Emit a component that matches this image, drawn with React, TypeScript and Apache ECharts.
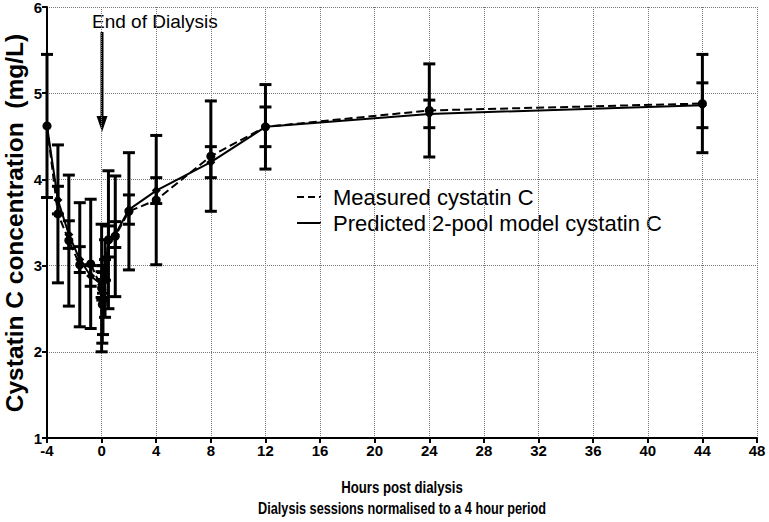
import React, { useEffect, useRef } from "react";
import * as echarts from "echarts";

// Hours post dialysis (sessions normalised to 4 h)
const xHours = [-4, -3.2, -2.4, -1.6, -0.8, 0, 0.05, 0.1, 0.25, 0.5, 1, 2, 4, 8, 12, 24, 44];
// Measured cystatin C (mg/L) and SD
const measuredMean = [4.62, 3.6, 3.29, 3.01, 3.02, 2.74, 2.55, 2.6, 2.85, 3.3, 3.34, 3.63, 3.76, 4.27, 4.61, 4.8, 4.88];
const measuredSD = [0.83, 0.8, 0.76, 0.72, 0.75, 0.74, 0.45, 0.4, 0.45, 0.8, 0.7, 0.68, 0.75, 0.64, 0.49, 0.54, 0.57];
// Predicted 2-pool model cystatin C (mg/L) and SD
const predictedMean = [4.62, 3.76, 3.36, 3.07, 2.88, 2.78, 2.72, 2.8, 2.95, 3.28, 3.36, 3.65, 3.87, 4.2, 4.61, 4.76, 4.86];
const predictedSD = [0, 0.16, 0.16, 0.15, 0.12, 0.15, 0.12, 0.12, 0.12, 0.18, 0.15, 0.17, 0.15, 0.18, 0.23, 0.16, 0.26];

const seriesNames = ["Measured cystatin C", "Predicted 2-pool model cystatin C"];
const annotationText = "End of Dialysis";
const xTitleLines = ["Hours post dialysis", "Dialysis sessions normalised to a 4 hour period"];
const yTitle = "Cystatin C concentration  (mg/L)";

const SANS = "'Liberation Sans', Arial, sans-serif";

function errorRender(capHalf: number, width: number) {
  return (params: any, api: any) => {
    const x = api.value(0);
    const loV = api.value(1);
    const hiV = api.value(2);
    if (hiV - loV < 1e-6) return null;
    const lo = api.coord([x, loV]);
    const hi = api.coord([x, hiV]);
    const st = { stroke: "#000", lineWidth: width };
    return {
      type: "group",
      children: [
        { type: "line", shape: { x1: lo[0], y1: lo[1], x2: hi[0], y2: hi[1] }, style: st },
        { type: "line", shape: { x1: lo[0] - capHalf, y1: lo[1], x2: lo[0] + capHalf, y2: lo[1] }, style: st },
        { type: "line", shape: { x1: hi[0] - capHalf, y1: hi[1], x2: hi[0] + capHalf, y2: hi[1] }, style: st },
      ],
    };
  };
}

export default function App() {
  const ref = useRef<HTMLDivElement>(null);
  useEffect(() => {
    if (!ref.current) return;
    const chart = echarts.init(ref.current, undefined, { renderer: "svg" });
    const measuredErr = xHours.map((x, i) => [x, measuredMean[i] - measuredSD[i], measuredMean[i] + measuredSD[i]]);
    const predictedErr = xHours.map((x, i) => [x, predictedMean[i] - predictedSD[i], predictedMean[i] + predictedSD[i]]);
    chart.setOption({
      animation: false,
      backgroundColor: "#fff",
      grid: { left: 47, right: 12, top: 7, bottom: 84, containLabel: false, outerBoundsMode: "none" },
      xAxis: {
        type: "value",
        min: -4,
        max: 48,
        interval: 4,
        axisLine: { show: true, onZero: false, lineStyle: { color: "#000", width: 2 } },
        axisTick: { show: true, length: 5, lineStyle: { color: "#000", width: 2 } },
        axisLabel: { color: "#000", fontFamily: SANS, fontWeight: "bold", fontSize: 15, margin: 5 },
        splitLine: { show: true, lineStyle: { type: "dotted", color: "#777", width: 1 } },
      },
      yAxis: {
        type: "value",
        min: 1,
        max: 6,
        interval: 1,
        axisLine: { show: true, onZero: false, lineStyle: { color: "#000", width: 2 } },
        axisTick: { show: true, length: 5, lineStyle: { color: "#000", width: 2 } },
        axisLabel: { color: "#000", fontFamily: SANS, fontWeight: "bold", fontSize: 15, margin: 5 },
        splitLine: { show: true, lineStyle: { type: "dotted", color: "#777", width: 1 } },
      },
      series: [
        {
          type: "custom",
          name: seriesNames[0] + " SD",
          renderItem: errorRender(6, 3),
          encode: { x: 0, y: [1, 2] },
          data: measuredErr,
          z: 2,
        },
        {
          type: "custom",
          name: seriesNames[1] + " SD",
          renderItem: errorRender(6, 3),
          encode: { x: 0, y: [1, 2] },
          data: predictedErr,
          z: 2,
        },
        {
          type: "line",
          name: seriesNames[0],
          data: xHours.map((x, i) => [x, measuredMean[i]]),
          symbol: "circle",
          symbolSize: 9,
          itemStyle: { color: "#000" },
          lineStyle: { color: "#000", width: 2, type: [8, 4] },
          z: 4,
        },
        {
          type: "line",
          name: seriesNames[1],
          data: xHours.map((x, i) => [x, predictedMean[i]]),
          symbol: "diamond",
          symbolSize: 9,
          itemStyle: { color: "#000" },
          lineStyle: { color: "#000", width: 2, type: "solid" },
          z: 3,
        },
      ],
      graphic: [
        { type: "line", shape: { x1: 297, y1: 197, x2: 321, y2: 197 }, style: { stroke: "#000", lineWidth: 2, lineDash: [7, 4] } },
        { type: "text", x: 333, y: 197, style: { text: seriesNames[0], font: `22px ${SANS}`, fill: "#000", verticalAlign: "middle" } },
        { type: "line", shape: { x1: 297, y1: 223, x2: 321, y2: 223 }, style: { stroke: "#000", lineWidth: 2 } },
        { type: "text", x: 333, y: 223, style: { text: seriesNames[1], font: `22px ${SANS}`, fill: "#000", verticalAlign: "middle" } },
        { type: "text", x: 92, y: 21, style: { text: annotationText, font: `19px ${SANS}`, fill: "#000", verticalAlign: "middle" } },
        { type: "line", shape: { x1: 102, y1: 32, x2: 102, y2: 118 }, style: { stroke: "#000", lineWidth: 3 } },
        { type: "polygon", shape: { points: [[96.5, 116], [107.5, 116], [102, 132]] }, style: { fill: "#000" } },
        {
          type: "text", x: 14, y: 223, rotation: Math.PI / 2,
          style: { text: yTitle, font: `bold 24.5px ${SANS}`, fill: "#000", align: "center", verticalAlign: "middle" },
        },
        {
          type: "text", x: 402, y: 487, scaleX: 0.8,
          style: { text: xTitleLines[0], font: `bold 16.5px ${SANS}`, fill: "#000", align: "center", verticalAlign: "middle" },
        },
        {
          type: "text", x: 402, y: 508, scaleX: 0.77,
          style: { text: xTitleLines[1], font: `bold 16.5px ${SANS}`, fill: "#000", align: "center", verticalAlign: "middle" },
        },
      ],
    });
    return () => chart.dispose();
  }, []);
  return <div ref={ref} style={{ position: "fixed", left: 0, top: 0, width: 769, height: 522 }} />;
}
